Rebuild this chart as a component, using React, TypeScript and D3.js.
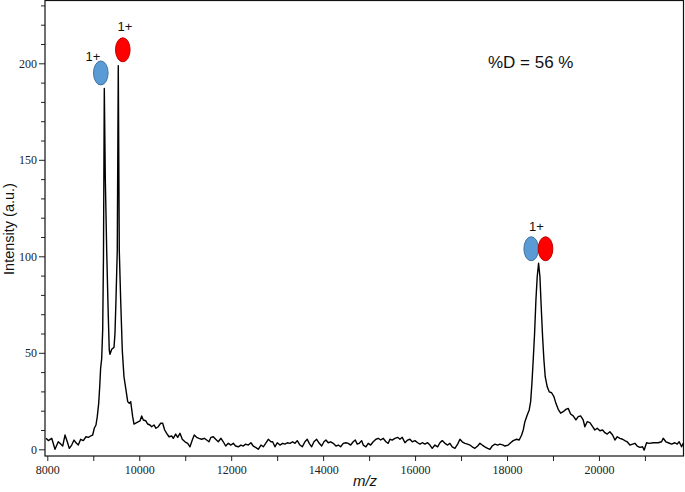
import React, { useRef, useEffect } from 'react';
import * as d3 from 'd3';

const width = 685;
const height = 492;

// [m/z, intensity]
const spectrum: [number, number][] = [
  [7972, 5.7], [8022, 4.5], [8096, 5.7], [8167, 0], [8239, 3.9], [8291, 2.7], [8335, 1.7],
  [8385, 7.4], [8435, 3.9], [8478, 0.5], [8531, 2.2], [8581, 4.8], [8624, 3.4], [8674, 2.2],
  [8726, 5.2], [8783, 4.5], [8842, 6.5], [8892, 6.2], [8944, 6.9], [8987, 7.4], [9022, 10.9],
  [9059, 12.6], [9087, 16.9], [9118, 23.8], [9140, 32.4], [9160, 42], [9183, 47], [9205, 62],
  [9222, 100], [9240, 187], [9262, 140], [9292, 103], [9327, 68.7], [9348, 51.4], [9364, 49.2],
  [9401, 51.8], [9451, 52.8], [9472, 60], [9494, 77.4], [9522, 103], [9544, 198.8], [9566, 103],
  [9596, 77.4], [9631, 51.4], [9668, 37.6], [9712, 30.7], [9749, 24.7], [9783, 23.8], [9814, 24.7],
  [9857, 16.9], [9886, 13.1], [9944, 13.8], [10016, 14.7], [10053, 17.3], [10088, 15.2],
  [10140, 14.8], [10184, 13.1], [10234, 12.6], [10271, 11.7], [10321, 12.6], [10364, 10.9],
  [10414, 11.7], [10466, 13.5], [10510, 13.5], [10553, 10], [10597, 8.3], [10647, 6.5],
  [10706, 6.9], [10740, 5.7], [10793, 7.9], [10836, 6.2], [10886, 8.3], [10936, 5.2], [10995, 3.9],
  [11054, 3.1], [11104, 1.3], [11154, 4.8], [11197, 7.4], [11249, 6.2], [11299, 5.7], [11358, 5.2],
  [11415, 5.7], [11467, 4.8], [11517, 3.9], [11560, 6.2], [11610, 6.5], [11663, 5.2], [11719, 3.9],
  [11778, 5.7], [11828, 3.9], [11880, 1.7], [11937, 3.1], [11995, 2.2], [12045, 3.1], [12097, 1.7],
  [12154, 1.3], [12213, 2.2], [12263, 1.7], [12315, 2.7], [12372, 2.2], [12430, 3.4], [12480, 1.7],
  [12532, 1], [12589, 0], [12648, 2.2], [12698, 1.3], [12750, 3.1], [12807, 5.2], [12865, 3.9],
  [12902, 3.9], [12952, 1.3], [13002, 3.4], [13061, 2.2], [13120, 3.1], [13170, 2.7], [13220, 3.4],
  [13278, 3.1], [13337, 3.9], [13387, 3.1], [13437, 4.5], [13496, 2.2], [13546, 1.3], [13605, 3.9],
  [13655, 5.2], [13698, 3.1], [13750, 1.3], [13800, 3.9], [13859, 5.2], [13916, 3.1], [13968, 1.7],
  [14018, 3.9], [14061, 4.8], [14111, 3.4], [14164, 3.9], [14220, 3.1], [14279, 1.7], [14329, 2.2],
  [14381, 1.3], [14438, 3.1], [14496, 3.4], [14546, 3.1], [14599, 2.2], [14655, 3.9], [14699, 4.8],
  [14742, 2.7], [14786, 3.1], [14838, 4.5], [14873, 2.2], [14931, 1.3], [14981, 3.1], [15034, 2.2],
  [15090, 3.9], [15149, 5.2], [15199, 5.7], [15251, 4.8], [15308, 5.7], [15366, 3.9], [15416, 3.1],
  [15453, 5.2], [15503, 4.8], [15562, 5.7], [15621, 6.2], [15671, 5.2], [15721, 6.2], [15780, 3.4],
  [15838, 4.8], [15888, 5.2], [15938, 3.9], [15997, 4.5], [16056, 3.4], [16106, 2.7], [16156, 3.4],
  [16214, 2.7], [16273, 3.4], [16323, 2.2], [16373, 0.5], [16432, 2.2], [16491, 1.3], [16541, 3.4],
  [16591, 4.5], [16650, 3.1], [16708, 2.2], [16758, 3.1], [16808, 1.3], [16867, 0.5], [16926, 2.7],
  [16976, 5.2], [17026, 3.9], [17084, 3.1], [17143, 2.7], [17193, 2.2], [17243, 1.3], [17302, 0.5],
  [17361, 1.7], [17411, 3.1], [17461, 2.2], [17519, 1.3], [17578, 0.5], [17628, 0], [17678, 1.7],
  [17737, 2.7], [17796, 2.2], [17846, 2.7], [17918, 2.2], [17954, 1.7], [18026, 2.2], [18079, 3.4],
  [18135, 4.5], [18209, 5.2], [18265, 4.8], [18318, 7.4], [18353, 10], [18389, 14.3], [18440, 17.8],
  [18483, 20.4], [18514, 24.7], [18542, 34.2], [18570, 46.3], [18600, 60.1], [18629, 77.4],
  [18657, 89.4], [18687, 96.4], [18716, 89.4], [18744, 73.9], [18774, 58.3], [18803, 46.3],
  [18831, 37.6], [18875, 32.4], [18918, 29.8], [18970, 29.3], [19020, 27.3], [19064, 23.8],
  [19114, 20.7], [19166, 18.7], [19222, 19.5], [19281, 20.7], [19331, 21.2], [19383, 18.3],
  [19440, 17.3], [19499, 15.2], [19549, 16.9], [19601, 17.3], [19657, 15.2], [19694, 11.7],
  [19744, 14.3], [19803, 13.8], [19862, 11.7], [19912, 10], [19962, 10.9], [20021, 9.6], [20079, 10],
  [20129, 8.6], [20179, 7.9], [20238, 9.1], [20297, 7.4], [20347, 4.8], [20397, 6.5], [20456, 5.7],
  [20514, 5.2], [20564, 4.5], [20614, 3.9], [20673, 2.2], [20732, 2.7], [20782, 3.1], [20832, 1.7],
  [20891, 1], [20949, 1.3], [20984, -0.4], [21036, 3.4], [21093, 3.1], [21180, 3.4], [21289, 3.4],
  [21362, 3.9], [21397, 5.7], [21456, 3.9], [21506, 3.4], [21580, 2.7], [21652, 3.4], [21702, 2.7],
  [21745, 3.9], [21798, 1.3], [21832, 3.1],
];

const yMajorTicks = [0, 50, 100, 150, 200];
const yMinorTicks = [10, 20, 30, 40, 60, 70, 80, 90, 110, 120, 130, 140, 160, 170, 180, 190, 210, 220, 230];
const xMajorTicks = [8000, 10000, 12000, 14000, 16000, 18000, 20000];
const xMinorTicks = [9000, 11000, 13000, 15000, 17000, 19000, 21000];

// species markers (blue = light, red = heavy)
const markers = [
  { mz: 9164, intensity: 195, species: 'light' },
  { mz: 9642, intensity: 207, species: 'heavy' },
  { mz: 18526, intensity: 103.9, species: 'light' },
  { mz: 18838, intensity: 103.9, species: 'heavy' },
];
const chargeLabels = [
  { mz: 8994, intensity: 201.2, text: '1+' },
  { mz: 9690, intensity: 216.7, text: '1+' },
  { mz: 18642, intensity: 113.1, text: '1+' },
];
const deuteration = { mz: 17586, intensity: 197.6, text: '%D = 56 %' };

const markerFill: Record<string, string> = { light: '#5b9bd5', heavy: '#ff0000' };
const markerStroke: Record<string, string> = { light: '#41719c', heavy: '#c00000' };

const x = d3.scaleLinear().domain([7950, 21850]).range([45, 684]);
const y = d3.scaleLinear().domain([-3.47, 232.8]).range([456, 0]);

const line = d3.line<[number, number]>()
  .x(d => x(d[0]))
  .y(d => y(d[1]));

export default function App() {
  const axesRef = useRef<SVGGElement>(null);

  useEffect(() => {
    if (!axesRef.current) return;
    const g = d3.select(axesRef.current);

    g.select<SVGGElement>('g.y-major')
      .call(d3.axisLeft(y).tickValues(yMajorTicks).tickSize(6).tickPadding(2).tickFormat(d3.format('d')));
    g.select<SVGGElement>('g.y-minor')
      .call(d3.axisLeft(y).tickValues(yMinorTicks).tickSize(4).tickFormat(() => ''));
    g.select<SVGGElement>('g.x-major')
      .attr('transform', 'translate(0,456)')
      .call(d3.axisBottom(x).tickValues(xMajorTicks).tickSize(5).tickPadding(4).tickFormat(d3.format('d')));
    g.select<SVGGElement>('g.x-minor')
      .attr('transform', 'translate(0,456)')
      .call(d3.axisBottom(x).tickValues(xMinorTicks).tickSize(5).tickFormat(() => ''));

    g.selectAll('g.y-major, g.y-minor').attr('transform', 'translate(45,0)');
    g.selectAll('.domain').remove();
    g.selectAll('.tick line').attr('stroke', '#222').attr('stroke-width', 1);
    g.selectAll('.tick text')
      .attr('fill', '#222')
      .style('font-family', '"Liberation Serif", "Times New Roman", serif')
      .style('font-size', '12px');
  }, []);

  return (
    <svg width={width} height={height} style={{ position: 'absolute', left: 0, top: 0, background: '#fff' }}>
      <g ref={axesRef}>
        <g className="y-minor" />
        <g className="y-major" />
        <g className="x-minor" />
        <g className="x-major" />
      </g>
      <rect x={45} y={0.5} width={638.5} height={455.5} fill="none" stroke="#111" strokeWidth={1.2} />
      <path d={line(spectrum) ?? ''} fill="none" stroke="#000" strokeWidth={1.4} strokeLinejoin="round" />

      {markers.map((m, i) => (
        <ellipse key={i} cx={x(m.mz)} cy={y(m.intensity)} rx={7.3} ry={12}
          fill={markerFill[m.species]} stroke={markerStroke[m.species]} strokeWidth={1} />
      ))}
      {chargeLabels.map((c, i) => (
        <text key={i} x={x(c.mz)} y={y(c.intensity)} textAnchor="middle"
          style={{ fontFamily: '"Liberation Sans", Arial, sans-serif', fontSize: 13 }} fill="#111">{c.text}</text>
      ))}
      <text x={x(deuteration.mz)} y={y(deuteration.intensity)}
        style={{ fontFamily: '"Liberation Sans", Arial, sans-serif', fontSize: 17 }} fill="#111">{deuteration.text}</text>

      <text transform="translate(13.5,229) rotate(-90)" textAnchor="middle"
        style={{ fontFamily: '"Liberation Sans", Arial, sans-serif', fontSize: 14.5 }} fill="#111">Intensity (a.u.)</text>
      <text x={365} y={486} textAnchor="middle"
        style={{ fontFamily: '"Liberation Sans", Arial, sans-serif', fontSize: 15, fontStyle: 'italic' }} fill="#111">m/z</text>
    </svg>
  );
}
